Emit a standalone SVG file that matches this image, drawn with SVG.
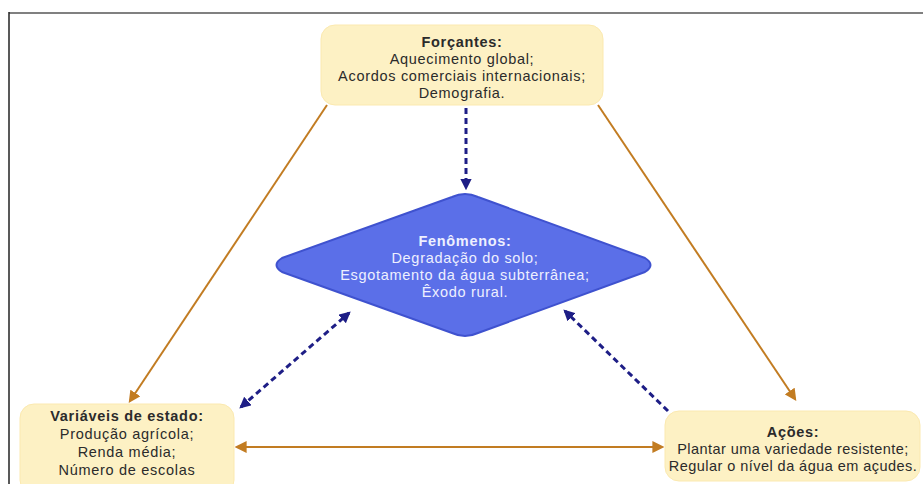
<svg xmlns="http://www.w3.org/2000/svg" width="923" height="484" viewBox="0 0 923 484">
  <style>
    .box { fill: #fdf1c4; stroke: #fbe9b0; stroke-width: 1; }
    .diamond { fill: #5b6fe8; stroke: #3f52cf; stroke-width: 2; stroke-linejoin: round; }
    .t { font-family: "Liberation Sans", Arial, sans-serif; font-size: 14.5px; letter-spacing: 0.7px; fill: #2b2b2b; text-anchor: middle; }
    .tn { letter-spacing: 0.45px; }
    .tb { font-weight: bold; }
    .tw { fill: #eef0ff; }
    .solid { stroke: #c27c22; stroke-width: 2; fill: none; }
    .dash { stroke: #1e1e86; stroke-width: 3; fill: none; stroke-dasharray: 6 4; }
  </style>
  <defs>
    <marker id="ao" viewBox="0 0 10 10" refX="8" refY="5" markerWidth="6" markerHeight="6" orient="auto-start-reverse" markerUnits="strokeWidth">
      <path d="M0,0 L10,5 L0,10 z" fill="#c27c22"/>
    </marker>
    <marker id="ab" viewBox="0 0 10 10" refX="8" refY="5" markerWidth="3.8" markerHeight="3.8" orient="auto-start-reverse" markerUnits="strokeWidth">
      <path d="M0,0 L10,5 L0,10 z" fill="#1e1e86"/>
    </marker>
  </defs>

  <rect width="923" height="484" fill="#ffffff"/>
  <!-- frame -->
  <line x1="9" y1="13" x2="923" y2="13" stroke="#808080" stroke-width="2"/>
  <line x1="9" y1="12" x2="9" y2="484" stroke="#222222" stroke-width="1.5"/>

  <g id="connectors">
    <line class="solid" x1="327" y1="105" x2="130" y2="401" marker-end="url(#ao)"/>
    <line class="solid" x1="598" y1="105" x2="795" y2="399" marker-end="url(#ao)"/>
    <line class="solid" x1="237" y1="447" x2="662" y2="447" marker-start="url(#ao)" marker-end="url(#ao)"/>
    <line class="dash" x1="466" y1="108" x2="466" y2="188" marker-end="url(#ab)"/>
    <line class="dash" x1="241" y1="407" x2="349" y2="313" marker-start="url(#ab)" marker-end="url(#ab)"/>
    <line class="dash" x1="668" y1="411" x2="565" y2="311" marker-end="url(#ab)"/>
  </g>

  <g id="forcantes">
    <rect class="box" x="321" y="25" width="282" height="80" rx="14"/>
    <text class="t tb" x="462" y="47">Forçantes:</text>
    <text class="t" x="462" y="64">Aquecimento global;</text>
    <text class="t" x="462" y="81">Acordos comerciais internacionais;</text>
    <text class="t" x="462" y="98">Demografia.</text>
  </g>

  <g id="fenomenos">
    <path class="diamond" d="M452,197 Q465,191 478,197 L645,258 Q656,265 645,272 L478,333 Q465,339 452,333 L282,272 Q271,265 282,258 Z"/>
    <text class="t tb tw" x="465" y="246">Fenômenos:</text>
    <text class="t tw" x="465" y="263">Degradação do solo;</text>
    <text class="t tw" x="465" y="280">Esgotamento da água subterrânea;</text>
    <text class="t tw" x="465" y="297">Êxodo rural.</text>
  </g>

  <g id="variaveis">
    <rect class="box" x="20" y="404" width="214" height="90" rx="14"/>
    <text class="t tb" x="127" y="421">Variáveis de estado:</text>
    <text class="t" x="127" y="439">Produção agrícola;</text>
    <text class="t" x="127" y="457">Renda média;</text>
    <text class="t" x="127" y="475">Número de escolas</text>
  </g>

  <g id="acoes">
    <rect class="box" x="665" y="411" width="255" height="70" rx="14"/>
    <text class="t tb" x="793" y="437">Ações:</text>
    <text class="t tn" x="793" y="454">Plantar uma variedade resistente;</text>
    <text class="t tn" x="793" y="471">Regular o nível da água em açudes.</text>
  </g>
</svg>
